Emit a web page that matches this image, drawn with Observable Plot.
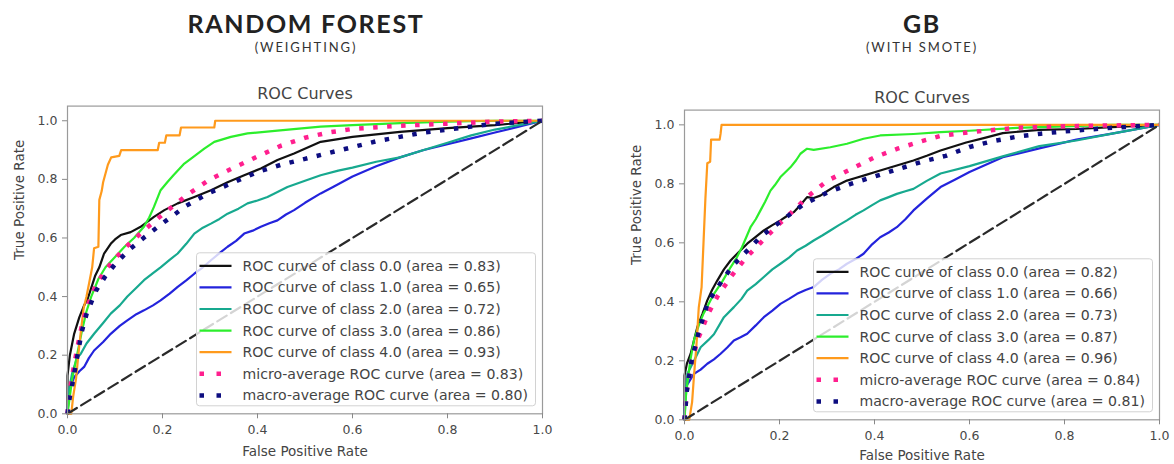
<!DOCTYPE html>
<html>
<head>
<meta charset="utf-8">
<script src="https://cdn.jsdelivr.net/npm/d3@7"></script>
<script src="https://cdn.jsdelivr.net/npm/@observablehq/plot@0.6"></script>
<style>
  html, body { margin: 0; padding: 0; background: #fff; }
  #wrap { position: relative; width: 1174px; height: 464px; overflow: hidden; }
  .panel { position: absolute; top: 0; width: 587px; height: 464px; }
  .head { position: relative; height: 70px; }
  .ttl { position: absolute; width: 300px; text-align: center; font-family: Lato, "Open Sans", sans-serif; }
  .main { top: 8px; font-size: 25px; font-weight: 700; color: #222; letter-spacing: 1.7px; }
  .sub { top: 39px; font-size: 13px; color: #333; letter-spacing: 1.9px; }
  .panel svg { display: block; }
</style>
</head>
<body>
<div id="wrap"></div>
<script>
// ---------- shared text ----------
const chartTitle = "ROC Curves";
const xLabel = "False Positive Rate";
const yLabel = "True Positive Rate";
const tickValues = [0, 0.2, 0.4, 0.6, 0.8, 1.0];
const diagonal = [[0, 0], [1, 1]];

// ---------- RANDOM FOREST (WEIGHTING) ----------
const rfTitle = "RANDOM FOREST";
const rfSubtitle = "(WEIGHTING)";
const rfLabels = [
  "ROC curve of class 0.0 (area = 0.83)",
  "ROC curve of class 1.0 (area = 0.65)",
  "ROC curve of class 2.0 (area = 0.72)",
  "ROC curve of class 3.0 (area = 0.86)",
  "ROC curve of class 4.0 (area = 0.93)",
  "micro-average ROC curve (area = 0.83)",
  "macro-average ROC curve (area = 0.80)"
];
const rfClass0 = [[0,0],[0,0.13],[0.005,0.2],[0.014,0.273],[0.025,0.33],[0.035,0.37],[0.042,0.39],[0.05,0.43],[0.058,0.47],[0.067,0.5],[0.077,0.547],[0.091,0.58],[0.1,0.595],[0.112,0.61],[0.133,0.62],[0.154,0.638],[0.168,0.655],[0.182,0.672],[0.204,0.695],[0.232,0.718],[0.267,0.74],[0.302,0.763],[0.337,0.79],[0.372,0.814],[0.407,0.837],[0.442,0.866],[0.477,0.888],[0.533,0.928],[0.6,0.945],[0.7,0.962],[0.8,0.975],[0.9,0.985],[1,1]];
const rfClass1 = [[0,0],[0.002,0.05],[0.004,0.08],[0.014,0.125],[0.025,0.145],[0.035,0.16],[0.045,0.19],[0.056,0.216],[0.075,0.245],[0.091,0.273],[0.11,0.3],[0.126,0.319],[0.145,0.34],[0.161,0.353],[0.18,0.37],[0.196,0.387],[0.215,0.41],[0.232,0.433],[0.25,0.455],[0.267,0.478],[0.285,0.5],[0.302,0.524],[0.32,0.548],[0.337,0.57],[0.355,0.59],[0.372,0.615],[0.39,0.625],[0.407,0.638],[0.425,0.65],[0.442,0.66],[0.46,0.68],[0.477,0.695],[0.5,0.72],[0.533,0.752],[0.56,0.775],[0.6,0.81],[0.65,0.845],[0.7,0.875],[0.75,0.9],[0.8,0.92],[0.85,0.94],[0.9,0.96],[0.95,0.98],[1,1]];
const rfClass2 = [[0,0],[0.003,0.08],[0.01,0.14],[0.02,0.19],[0.028,0.205],[0.04,0.24],[0.056,0.273],[0.075,0.31],[0.091,0.342],[0.11,0.37],[0.126,0.4],[0.145,0.43],[0.161,0.456],[0.18,0.48],[0.196,0.5],[0.215,0.525],[0.232,0.547],[0.25,0.58],[0.267,0.615],[0.285,0.635],[0.302,0.649],[0.32,0.665],[0.337,0.683],[0.36,0.7],[0.379,0.718],[0.4,0.728],[0.421,0.74],[0.44,0.755],[0.463,0.774],[0.5,0.795],[0.533,0.814],[0.57,0.83],[0.6,0.84],[0.65,0.86],[0.7,0.875],[0.75,0.9],[0.8,0.925],[0.85,0.95],[0.9,0.97],[0.95,0.985],[1,1]];
const rfClass3 = [[0,0],[0.005,0.06],[0.01,0.12],[0.02,0.2],[0.03,0.28],[0.04,0.35],[0.05,0.4],[0.065,0.46],[0.08,0.5],[0.1,0.535],[0.12,0.57],[0.14,0.6],[0.161,0.638],[0.172,0.67],[0.182,0.706],[0.196,0.763],[0.21,0.79],[0.223,0.814],[0.246,0.854],[0.265,0.877],[0.288,0.905],[0.309,0.928],[0.344,0.945],[0.379,0.957],[0.442,0.966],[0.533,0.98],[0.6,0.985],[0.7,0.992],[0.8,0.997],[0.9,1.0],[1,1]];
const rfClass4 = [[0,0],[0.008,0],[0.012,0.06],[0.018,0.12],[0.024,0.22],[0.028,0.28],[0.034,0.36],[0.04,0.4],[0.046,0.45],[0.052,0.5],[0.056,0.565],[0.065,0.57],[0.067,0.73],[0.072,0.76],[0.075,0.79],[0.08,0.82],[0.085,0.85],[0.092,0.875],[0.109,0.88],[0.113,0.9],[0.19,0.9],[0.193,0.925],[0.205,0.925],[0.208,0.95],[0.236,0.95],[0.239,0.977],[0.309,0.977],[0.311,1.0],[1,1]];
const rfMicro = [[0,0],[0.005,0.08],[0.01,0.13],[0.02,0.22],[0.03,0.3],[0.04,0.36],[0.05,0.4],[0.06,0.44],[0.08,0.49],[0.1,0.53],[0.13,0.58],[0.16,0.625],[0.2,0.68],[0.25,0.745],[0.3,0.8],[0.35,0.84],[0.4,0.878],[0.45,0.915],[0.5,0.942],[0.55,0.96],[0.6,0.972],[0.7,0.983],[0.8,0.99],[0.9,0.997],[1,1]];
const rfMacro = [[0,0],[0.005,0.06],[0.01,0.1],[0.02,0.19],[0.03,0.28],[0.04,0.34],[0.05,0.38],[0.06,0.42],[0.08,0.47],[0.1,0.51],[0.13,0.56],[0.16,0.6],[0.2,0.65],[0.25,0.71],[0.3,0.755],[0.35,0.79],[0.4,0.825],[0.45,0.85],[0.5,0.87],[0.55,0.89],[0.6,0.91],[0.65,0.93],[0.7,0.945],[0.75,0.96],[0.8,0.97],[0.85,0.98],[0.9,0.99],[1,1]];

// ---------- GB (WITH SMOTE) ----------
const gbTitle = "GB";
const gbSubtitle = "(WITH SMOTE)";
const gbLabels = [
  "ROC curve of class 0.0 (area = 0.82)",
  "ROC curve of class 1.0 (area = 0.66)",
  "ROC curve of class 2.0 (area = 0.73)",
  "ROC curve of class 3.0 (area = 0.87)",
  "ROC curve of class 4.0 (area = 0.96)",
  "micro-average ROC curve (area = 0.84)",
  "macro-average ROC curve (area = 0.81)"
];
const gbClass0 = [[0,0],[0,0.15],[0.005,0.19],[0.013,0.224],[0.02,0.27],[0.027,0.314],[0.038,0.36],[0.048,0.405],[0.058,0.44],[0.069,0.472],[0.083,0.51],[0.097,0.54],[0.115,0.57],[0.132,0.597],[0.15,0.62],[0.167,0.642],[0.185,0.66],[0.202,0.676],[0.215,0.69],[0.23,0.704],[0.245,0.73],[0.258,0.755],[0.272,0.752],[0.286,0.76],[0.3,0.775],[0.314,0.789],[0.342,0.811],[0.36,0.82],[0.377,0.828],[0.412,0.845],[0.447,0.862],[0.482,0.879],[0.51,0.895],[0.539,0.913],[0.593,0.94],[0.63,0.955],[0.67,0.972],[0.747,0.983],[0.825,0.986],[0.9,0.992],[1,1]];
const gbClass1 = [[0,0],[0.002,0.11],[0.01,0.13],[0.02,0.156],[0.034,0.17],[0.048,0.19],[0.062,0.205],[0.076,0.224],[0.09,0.245],[0.104,0.269],[0.118,0.28],[0.132,0.292],[0.15,0.32],[0.167,0.348],[0.185,0.37],[0.202,0.393],[0.22,0.41],[0.237,0.427],[0.255,0.44],[0.272,0.45],[0.29,0.475],[0.307,0.495],[0.325,0.51],[0.342,0.529],[0.36,0.545],[0.377,0.563],[0.395,0.595],[0.412,0.619],[0.43,0.635],[0.447,0.653],[0.465,0.68],[0.482,0.71],[0.51,0.75],[0.539,0.789],[0.57,0.815],[0.6,0.84],[0.67,0.89],[0.747,0.92],[0.825,0.95],[0.9,0.97],[1,1]];
const gbClass2 = [[0,0],[0.003,0.1],[0.006,0.156],[0.02,0.2],[0.034,0.246],[0.05,0.27],[0.062,0.29],[0.083,0.348],[0.104,0.382],[0.12,0.41],[0.132,0.438],[0.15,0.46],[0.167,0.484],[0.185,0.51],[0.202,0.529],[0.22,0.55],[0.237,0.574],[0.255,0.59],[0.272,0.608],[0.29,0.625],[0.307,0.642],[0.325,0.66],[0.342,0.676],[0.36,0.695],[0.377,0.71],[0.395,0.728],[0.412,0.744],[0.43,0.755],[0.447,0.766],[0.465,0.775],[0.482,0.783],[0.51,0.81],[0.539,0.835],[0.6,0.86],[0.67,0.893],[0.747,0.928],[0.825,0.947],[0.9,0.97],[1,1]];
const gbClass3 = [[0,0],[0.003,0.08],[0.006,0.122],[0.012,0.2],[0.02,0.27],[0.03,0.32],[0.04,0.36],[0.05,0.39],[0.062,0.427],[0.08,0.47],[0.097,0.517],[0.11,0.55],[0.121,0.585],[0.139,0.653],[0.15,0.68],[0.16,0.71],[0.17,0.74],[0.181,0.777],[0.19,0.795],[0.202,0.823],[0.223,0.856],[0.235,0.88],[0.244,0.902],[0.258,0.919],[0.272,0.915],[0.307,0.924],[0.342,0.936],[0.377,0.953],[0.412,0.964],[0.482,0.969],[0.539,0.975],[0.6,0.98],[0.7,0.99],[0.8,0.995],[0.9,1.0],[1,1]];
const gbClass4 = [[0,0],[0.01,0],[0.016,0.06],[0.02,0.15],[0.025,0.25],[0.03,0.38],[0.036,0.45],[0.04,0.6],[0.044,0.75],[0.048,0.87],[0.054,0.875],[0.056,0.95],[0.074,0.95],[0.076,0.97],[0.078,1.0],[1,1]];
const gbMicro = [[0,0],[0.005,0.1],[0.01,0.15],[0.015,0.2],[0.03,0.28],[0.05,0.36],[0.07,0.42],[0.1,0.49],[0.13,0.55],[0.16,0.6],[0.2,0.665],[0.23,0.71],[0.258,0.755],[0.3,0.81],[0.35,0.85],[0.4,0.89],[0.45,0.92],[0.5,0.945],[0.54,0.963],[0.6,0.975],[0.7,0.99],[0.8,0.995],[0.9,0.998],[1,1]];
const gbMacro = [[0,0],[0.005,0.1],[0.015,0.2],[0.03,0.3],[0.05,0.4],[0.07,0.45],[0.1,0.52],[0.13,0.57],[0.16,0.62],[0.2,0.67],[0.25,0.73],[0.3,0.77],[0.35,0.8],[0.4,0.825],[0.45,0.85],[0.5,0.875],[0.55,0.895],[0.6,0.925],[0.65,0.945],[0.7,0.96],[0.75,0.97],[0.8,0.978],[0.9,0.99],[1,1]];

// ---------- styles (not data) ----------
const seriesStyles = [
  {stroke: "#111111", width: 2.2},
  {stroke: "#2323dc", width: 2.2},
  {stroke: "#17a98f", width: 2.2},
  {stroke: "#2cee2c", width: 2.2},
  {stroke: "#ff9a1c", width: 2.2},
  {stroke: "#ff1f8e", width: 4.5, dash: "4.5,9.5", legendDash: "4.5,12.5"},
  {stroke: "#0d0d80", width: 4.5, dash: "4.5,9.5", legendDash: "4.5,12.5"}
];

function drawPanel(cfg) {
  const panel = d3.select("#wrap").append("div").attr("class", "panel").style("left", cfg.left + "px");
  const head = panel.append("div").attr("class", "head");
  head.append("div").attr("class", "ttl main").style("left", (cfg.titleX - 150) + "px").text(cfg.title);
  head.append("div").attr("class", "ttl sub").style("left", (cfg.titleX - 150) + "px").text(cfg.subtitle);

  const fig = Plot.plot({
    width: 587,
    height: 394,
    marginLeft: cfg.mL, marginRight: cfg.mR, marginTop: cfg.mT, marginBottom: cfg.mB,
    x: {domain: [0, 1]},
    y: {domain: [0, 1.05]},
    style: {fontFamily: "'DejaVu Sans', sans-serif", fontSize: "12.5px", color: "#484848", background: "white", overflow: "visible"},
    marks: [
      ...cfg.series.map((s, i) => Plot.line(s, {
        x: d => d[0], y: d => d[1],
        stroke: seriesStyles[i].stroke, strokeWidth: seriesStyles[i].width,
        strokeDasharray: seriesStyles[i].dash, strokeLinecap: "butt", strokeLinejoin: "round"
      })),
      Plot.line(diagonal, {x: d => d[0], y: d => d[1], stroke: "#2a2a2a", strokeWidth: 2.2, strokeDasharray: "11,5"}),
      Plot.frame({stroke: "#9a9a9a", strokeWidth: 1.2}),
      Plot.axisX({ticks: tickValues, tickFormat: d => d.toFixed(1), tickSize: 5, tickPadding: 6, label: null, stroke: "#888"}),
      Plot.axisY({ticks: tickValues, tickFormat: d => d.toFixed(1), tickSize: 5, tickPadding: 5, label: null, stroke: "#888"}),
      Plot.text([chartTitle], {text: d => d, frameAnchor: "top", dy: cfg.titleDy, lineAnchor: "middle", fontSize: 16, fill: "#444"}),
      Plot.text([xLabel], {text: d => d, frameAnchor: "bottom", dy: cfg.xLabDy, lineAnchor: "middle", fontSize: 13.5, fill: "#444"}),
      Plot.text([yLabel], {text: d => d, frameAnchor: "left", dx: -48, rotate: -90, lineAnchor: "middle", fontSize: 13.5, fill: "#444"})
    ]
  });
  panel.node().appendChild(fig);

  // legend inside the lower right of the frame
  const svg = d3.select(fig);
  const frameRight = 587 - cfg.mR, frameBottom = 394 - cfg.mB;
  const bw = 339, bh = 153;
  const bx = frameRight - 6.5 - bw, by = frameBottom - 7.5 - bh;
  const g = svg.append("g").attr("transform", `translate(${bx},${by})`).attr("text-anchor", "start");
  g.append("rect").attr("width", bw).attr("height", bh).attr("rx", 3)
    .attr("fill", "rgba(255,255,255,0.8)").attr("stroke", "#d2d2d2").attr("stroke-width", 1);
  cfg.labels.forEach((lab, i) => {
    const st = seriesStyles[i];
    const yy = 13 + i * 21.6;
    g.append("line").attr("x1", 3).attr("x2", 35).attr("y1", yy).attr("y2", yy)
      .attr("stroke", st.stroke).attr("stroke-width", st.width)
      .attr("stroke-dasharray", st.legendDash || null);
    g.append("text").attr("x", 46).attr("y", yy).attr("dy", "0.35em").attr("text-anchor", "start")
      .attr("font-family", "'DejaVu Sans', sans-serif").attr("font-size", 14.1).attr("fill", "#444")
      .text(lab);
  });
}

drawPanel({
  left: 0, titleX: 306, title: rfTitle, subtitle: rfSubtitle,
  mL: 67, mR: 45, mT: 35.6, mB: 50.7, titleDy: -12, xLabDy: 38,
  labels: rfLabels,
  series: [rfClass0, rfClass1, rfClass2, rfClass3, rfClass4, rfMicro, rfMacro]
});
drawPanel({
  left: 587, titleX: 335, title: gbTitle, subtitle: gbSubtitle,
  mL: 97, mR: 15, mT: 39.6, mB: 44.7, titleDy: -12.6, xLabDy: 36,
  labels: gbLabels,
  series: [gbClass0, gbClass1, gbClass2, gbClass3, gbClass4, gbMicro, gbMacro]
});
</script>
</body>
</html>
